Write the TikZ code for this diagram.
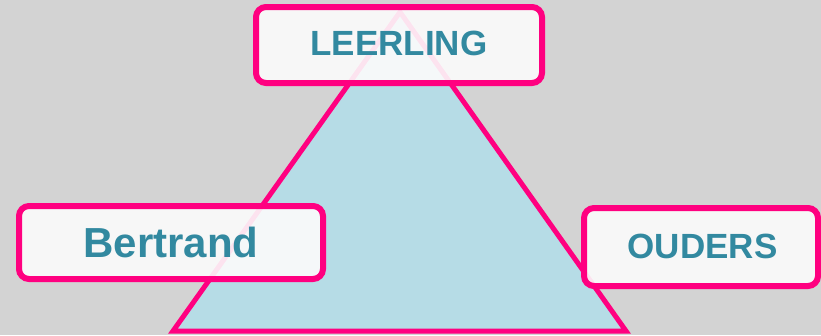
\documentclass[tikz,border=0pt]{standalone}
\usepackage{fontspec}
\setmainfont{Liberation Sans}
\definecolor{bg}{RGB}{211,211,211}
\definecolor{pinkline}{RGB}{255,0,128}
\definecolor{trifill}{RGB}{182,220,230}
\definecolor{boxfill}{RGB}{252,252,252}
\definecolor{tealtext}{RGB}{50,137,160}
\tikzset{
  rolebox/.style={draw=pinkline, line width=6pt, rounded corners=10pt, fill=boxfill, fill opacity=0.9, draw opacity=1, inner sep=0pt, rectangle},
  roletext/.style={text=tealtext, anchor=base, inner sep=0pt},
}
\begin{document}
\begin{tikzpicture}[x=1pt,y=-1pt]
\fill[bg] (0,0) rectangle (821,335);
\useasboundingbox (0,0) rectangle (821,335);
\coordinate (apex) at (400,12);
\coordinate (bl) at (173,331);
\coordinate (br) at (626,331);
\filldraw[fill=trifill, draw=pinkline, line width=5pt, line join=miter] (apex) -- (br) -- (bl) -- cycle;
\node[rolebox, minimum width=286pt, minimum height=76pt] (boxL) at (399,45) {};
\node[rolebox, minimum width=304pt, minimum height=73pt] (boxB) at (171,242.5) {};
\node[rolebox, minimum width=234pt, minimum height=78pt] (boxO) at (701,247) {};
\node[roletext, font=\fontsize{35}{40}\selectfont\bfseries] (leerling) at (399,55) {LEERLING};
\node[roletext, font=\fontsize{42}{48}\selectfont\bfseries] (bertrand) at (171,257) {Bertrand};
\node[roletext, font=\fontsize{35}{40}\selectfont\bfseries] (ouders) at (702.5,258) {OUDERS};
\end{tikzpicture}
\end{document}
